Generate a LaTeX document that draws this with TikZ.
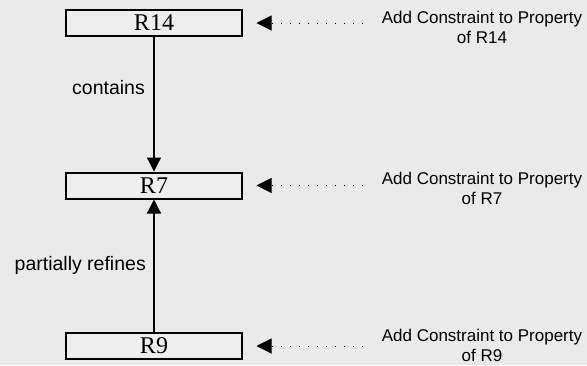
\documentclass[tikz,border=0pt]{standalone}
\usepackage{fontspec}
\setmainfont{Liberation Sans}
\newfontfamily\boxserif{Liberation Serif}
\usetikzlibrary{arrows.meta}
\definecolor{bgc}{RGB}{234,234,234}
\definecolor{boxc}{RGB}{238,238,238}
\tikzset{
  rbox/.style={draw=black, fill=boxc, line width=2pt, minimum width=176pt, minimum height=26pt,
    inner sep=0pt, font=\boxserif\fontsize{24pt}{26pt}\selectfont},
  rel/.style={line width=1.2pt, -{Triangle[length=14pt,width=14pt]}},
  note/.style={line width=1pt, dash pattern=on 1pt off 8pt, -{Triangle[length=15pt,width=15pt]}},
  notetext/.style={align=center, inner sep=0pt, font=\fontsize{17pt}{20pt}\selectfont},
  lbl/.style={anchor=east, inner sep=0pt, font=\fontsize{19.5pt}{22pt}\selectfont}
}
\begin{document}
\begin{tikzpicture}[x=1pt,y=-1pt]
\fill[bgc] (0,0) rectangle (587,365);
\useasboundingbox (0,0) rectangle (587,365);
\node[rbox] (r14) at (154,23) {R14};
\node[rbox] (r7) at (154,185.5) {R7};
\node[rbox] (r9) at (154,346) {R9};
\draw[rel] (r14) -- (r7);
\draw[rel] (r9) -- (r7);
\node[lbl] (lc) at (145,88) {contains};
\node[lbl] (lp) at (146,265) {partially refines};
\node[notetext] (t14) at (482,27) {Add Constraint to Property\\of R14};
\node[notetext] (t7) at (482,188) {Add Constraint to Property\\of R7};
\node[notetext] (t9) at (482,345) {Add Constraint to Property\\of R9};
\coordinate (s14) at (363,23);
\coordinate (s7) at (363,185.5);
\coordinate (s9) at (363,346);
\coordinate (e14) at (256.5,23);
\coordinate (e7) at (256.5,185.5);
\coordinate (e9) at (256.5,346);
\draw[note] (s14) -- (e14);
\draw[note] (s7) -- (e7);
\draw[note] (s9) -- (e9);
\end{tikzpicture}
\end{document}
